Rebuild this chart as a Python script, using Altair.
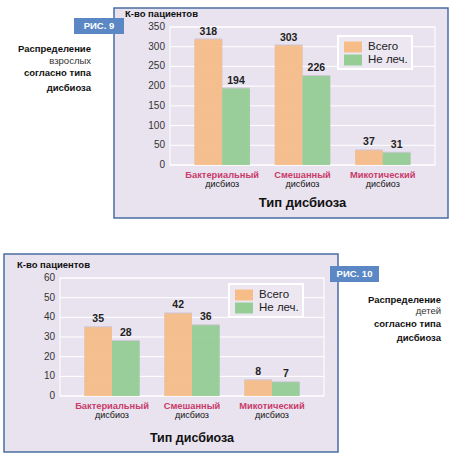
import altair as alt
import pandas as pd

# ---------------- data ----------------
categories = ["Бактериальный", "Смешанный", "Микотический"]
series = ["Всего", "Не леч."]
adults_total = [318, 303, 37]
adults_untreated = [194, 226, 31]
children_total = [35, 42, 8]
children_untreated = [28, 36, 7]
adult_ticks = [0, 50, 100, 150, 200, 250, 300, 350]
child_ticks = [0, 10, 20, 30, 40, 50, 60]
adult_note = ["Распределение", "взрослых", "согласно типа", "дисбиоза"]
child_note = ["Распределение", "детей", "согласно типа", "дисбиоза"]
sub_label = "дисбиоз"
x_title = "Тип дисбиоза"
y_title = "К-во пациентов"
fig_labels = ["РИС. 9", "РИС. 10"]

# ---------------- styles ----------------
colors = ["#f6bd88", "#95cd95"]
BOX_FILL = "#e9e3ef"
BOX_STROKE = "#4b6fa3"
FIG_FILL = "#5b88c4"
CAT_COLOR = "#c83c6a"
SHADOW = "#8f849f"
FONT = "Liberation Sans, Arial, sans-serif"


def long_df(total, untreated):
    rows = []
    for c, t, u in zip(categories, total, untreated):
        rows.append({"cat": c, "series": series[0], "value": t})
        rows.append({"cat": c, "series": series[1], "value": u})
    return pd.DataFrame(rows)


def one(txt):
    return pd.DataFrame({"t": [txt]})


def txt(s, x, y, size, weight="normal", color="#111", align="left"):
    return alt.Chart(one(s)).mark_text(
        font=FONT, fontSize=size, fontWeight=weight, color=color,
        align=align, baseline="middle").encode(
        x=alt.value(x), y=alt.value(y), text="t:N")


def panel(df, ticks, ymax, px, py, box, figbox, figlabel,
          note, note_x, note_ys, legend_xy, ytitle_xy, xtitle_y, xtitle_size):
    x0, x1 = px
    y0, y1 = py
    xscale = alt.Scale(domain=categories, range=[x0, x1],
                       paddingInner=0.31, paddingOuter=0.305)
    yscale = alt.Scale(domain=[0, ymax], range=[y1, y0], nice=False)
    X = alt.X("cat:N", sort=categories, scale=xscale, axis=None)
    XO = alt.XOffset("series:N", sort=series)
    Y = alt.Y("value:Q", scale=yscale, axis=None)

    boxr = alt.Chart(one("")).mark_rect(fill=BOX_FILL, stroke=BOX_STROKE, strokeWidth=1.5).encode(
        x=alt.value(box[0]), x2=alt.value(box[2]),
        y=alt.value(box[1]), y2=alt.value(box[3]))
    tdf = pd.DataFrame({"tick": ticks})
    grid = alt.Chart(tdf).mark_rule(color="white", strokeWidth=1).encode(
        y=alt.Y("tick:Q", scale=yscale, axis=None),
        x=alt.value(x0), x2=alt.value(x1))
    ylabels = alt.Chart(tdf).mark_text(font=FONT, fontSize=10, color="#333",
                                       align="right", baseline="middle").encode(
        y=alt.Y("tick:Q", scale=yscale, axis=None),
        x=alt.value(x0 - 5), text="tick:Q")
    border = alt.Chart(one("")).mark_rect(fill="transparent", stroke="white", strokeWidth=1).encode(
        x=alt.value(x0), x2=alt.value(x1), y=alt.value(y0), y2=alt.value(y1))

    shadows = [
        alt.Chart(df).mark_bar(color=SHADOW, opacity=op, xOffset=off, yOffset=-1).encode(
            x=X, xOffset=XO, y=Y)
        for off, op in [(2, 0.12), (4, 0.10), (6, 0.07)]
    ]
    bars = alt.Chart(df).mark_bar(opacity=0.93).encode(
        x=X, xOffset=XO, y=Y,
        color=alt.Color("series:N", sort=series,
                        scale=alt.Scale(domain=series, range=colors),
                        legend=alt.Legend(
                            title=None, orient="none",
                            legendX=legend_xy[0], legendY=legend_xy[1],
                            fillColor="#ece7f1", strokeColor="white", padding=3.5,
                            symbolType="M-1.2,-0.73H1.2V0.73H-1.2Z",
                            symbolSize=225, symbolOffset=4, symbolStrokeWidth=0,
                            symbolOpacity=1, labelFont=FONT, labelFontSize=11.5,
                            labelColor="#222", labelOffset=7.5, rowPadding=0,
                            labelExpr="datum.label + '   '")))
    vals = alt.Chart(df).mark_text(font=FONT, fontSize=10.5, fontWeight="bold",
                                   color="#222", baseline="bottom", dy=-3).encode(
        x=X, xOffset=XO, y=Y, text="value:Q")
    cdf = pd.DataFrame({"cat": categories})
    cats = alt.Chart(cdf).mark_text(font=FONT, fontSize=9.3, fontWeight="bold",
                                    color=CAT_COLOR, baseline="middle").encode(
        x=X, y=alt.value(y1 + 10), text="cat:N")
    subs = alt.Chart(cdf).mark_text(font=FONT, fontSize=9, color="#111",
                                    baseline="middle", text=sub_label).encode(
        x=X, y=alt.value(y1 + 19))

    figr = alt.Chart(one("")).mark_rect(fill=FIG_FILL).encode(
        x=alt.value(figbox[0]), x2=alt.value(figbox[2]),
        y=alt.value(figbox[1]), y2=alt.value(figbox[3]))
    figt = txt(figlabel, (figbox[0] + figbox[2]) / 2, (figbox[1] + figbox[3]) / 2,
               9.5, "bold", "white", "center")

    notes = []
    for i, (line, yy) in enumerate(zip(note, note_ys)):
        if i == 1:
            notes.append(txt(line, note_x, yy, 9.5, "normal", "#333", "right"))
        else:
            notes.append(txt(line, note_x, yy, 9.5, "bold", "#111", "right"))

    ytl = txt(y_title, ytitle_xy[0], ytitle_xy[1], 9.5, "bold", "#111", "left")
    xtl = txt(x_title, (x0 + x1) / 2, xtitle_y, xtitle_size, "bold", "#111", "center")

    return alt.layer(boxr, grid, border, ylabels, *shadows, bars, vals, cats, subs,
                     figr, figt, ytl, xtl, *notes)


top = panel(long_df(adults_total, adults_untreated), adult_ticks, 350,
            px=(170, 435), py=(27, 165),
            box=(114, 8, 448, 218), figbox=(74, 18, 124, 34), figlabel=fig_labels[0],
            note=adult_note, note_x=91, note_ys=[49, 61, 73, 88],
            legend_xy=(338, 36), ytitle_xy=(125, 14), xtitle_y=203, xtitle_size=13)

bottom = panel(long_df(children_total, children_untreated), child_ticks, 60,
               px=(60, 324), py=(278, 396),
               box=(4, 254, 338, 452), figbox=(330, 266, 379, 282), figlabel=fig_labels[1],
               note=child_note, note_x=441, note_ys=[300, 311, 324, 338],
               legend_xy=(229, 284), ytitle_xy=(17, 265), xtitle_y=438, xtitle_size=12.5)

chart = alt.layer(top, bottom).resolve_scale(
    x="independent", y="independent", xOffset="independent", color="independent"
).properties(
    width=449, height=457, padding=0,
    autosize=alt.AutoSizeParams(type="none")
).configure_view(strokeWidth=0).configure_legend(strokeWidth=2)

chart.save("out.html", embed_options={"renderer": "svg", "actions": False})
